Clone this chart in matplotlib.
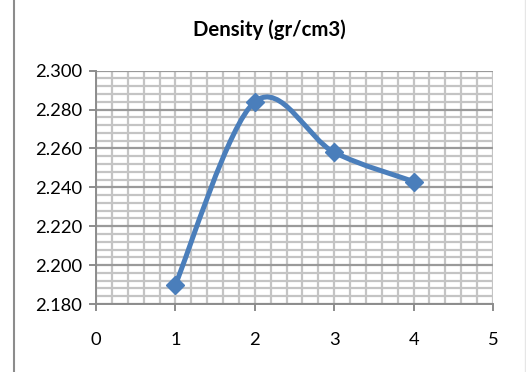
import matplotlib
matplotlib.use("Agg")
import matplotlib.pyplot as plt
from matplotlib.path import Path
from matplotlib.patches import PathPatch
from matplotlib.lines import Line2D
from matplotlib.ticker import MultipleLocator, FormatStrFormatter

# Données
echantillons = [1, 2, 3, 4]
densites = [2.190, 2.284, 2.258, 2.243]
titre = "Density (gr/cm3)"

BLEU = "#4A7EBB"
plt.rcParams["font.family"] = ["Lato", "DejaVu Sans"]


def chemin_lisse(xs, ys):
    """Courbe lissée type Excel (Bézier cubiques, tangentes Catmull-Rom)."""
    pts = list(zip(xs, ys))
    sommets = [pts[0]]
    codes = [Path.MOVETO]
    for i in range(len(pts) - 1):
        p0 = pts[max(i - 1, 0)]
        p1 = pts[i]
        p2 = pts[i + 1]
        p3 = pts[min(i + 2, len(pts) - 1)]
        c1 = (p1[0] + (p2[0] - p0[0]) / 6, p1[1] + (p2[1] - p0[1]) / 6)
        c2 = (p2[0] - (p3[0] - p1[0]) / 6, p2[1] - (p3[1] - p1[1]) / 6)
        sommets += [c1, c2, p2]
        codes += [Path.CURVE4] * 3
    return Path(sommets, codes)


fig = plt.figure(figsize=(5.26, 3.72), dpi=100)
ax = fig.add_axes([96 / 526, 68 / 372, 397 / 526, 233.3 / 372])

ax.set_xlim(0, 5)
ax.set_ylim(2.180, 2.300)
ax.xaxis.set_major_locator(MultipleLocator(1))
ax.xaxis.set_minor_locator(MultipleLocator(0.2))
ax.yaxis.set_major_locator(MultipleLocator(0.02))
ax.yaxis.set_minor_locator(MultipleLocator(0.004))
ax.yaxis.set_major_formatter(FormatStrFormatter("%.3f"))

# grille : mineure claire, majeure horizontale plus foncée
ax.grid(which="minor", color="#C4C4C4", linewidth=1.6)
ax.grid(which="major", axis="x", color="#C4C4C4", linewidth=1.6)
ax.grid(which="major", axis="y", color="#9A9A9A", linewidth=1.6)
ax.set_axisbelow(True)

for cote in ["top", "right"]:
    ax.spines[cote].set_visible(False)
for cote in ["left", "bottom"]:
    ax.spines[cote].set_color("#8C8C8C")
    ax.spines[cote].set_linewidth(1.4)

ax.tick_params(which="major", direction="out", length=5, width=1.4,
               color="#8C8C8C", labelsize=13.2, labelcolor="black")
ax.tick_params(axis="x", pad=15)
ax.tick_params(axis="y", pad=5)
ax.tick_params(which="minor", length=0)

ax.add_patch(PathPatch(chemin_lisse(echantillons, densites), facecolor="none",
                       edgecolor=BLEU, linewidth=3.6, capstyle="round",
                       joinstyle="round", zorder=3))
ax.plot(echantillons, densites, linestyle="none", marker="D", markersize=9,
        color=BLEU, zorder=4)

fig.text(269 / 526, 1 - 30 / 372, titre, ha="center", va="center",
         fontsize=14.7, fontweight="bold")

# bordure de la zone de graphique
fig.add_artist(Line2D([13.5 / 526, 13.5 / 526], [0, 1], color="#8C8C8C",
                      linewidth=1.5, transform=fig.transFigure))
fig.add_artist(Line2D([525 / 526, 525 / 526], [0, 1], color="#E6E6E6",
                      linewidth=1, transform=fig.transFigure))

fig.savefig("out.png", dpi=100)
